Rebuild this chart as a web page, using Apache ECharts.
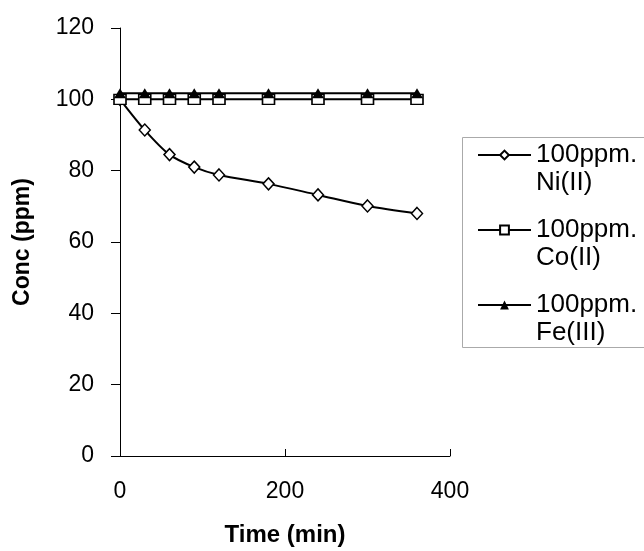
<!DOCTYPE html>
<html>
<head>
<meta charset="utf-8">
<script src="https://cdn.jsdelivr.net/npm/echarts@6/dist/echarts.min.js"></script>
<style>
html,body{margin:0;padding:0;background:#fff;}
#chart{width:644px;height:551px;}
</style>
</head>
<body>
<div id="chart"></div>
<script>
// Data
const timeMin = [0, 30, 60, 90, 120, 180, 240, 300, 360];
const niConc = [100, 91.4, 84.5, 81.0, 78.8, 76.3, 73.2, 70.1, 68.0];
const coConc = [100, 100, 100, 100, 100, 100, 100, 100, 100];
const feConc = [101.7, 101.7, 101.7, 101.7, 101.7, 101.7, 101.7, 101.7, 101.7];
const seriesNames = ['100ppm.\nNi(II)', '100ppm.\nCo(II)', '100ppm.\nFe(III)'];
const xTicks = [0, 200, 400];
const yTicks = [0, 20, 40, 60, 80, 100, 120];

function pairs(xs, ys) { return xs.map((x, i) => [x, ys[i]]); }

const chart = echarts.init(document.getElementById('chart'), null, {renderer: 'canvas'});
const font = 'Liberation Sans, Arial, sans-serif';

chart.setOption({
  animation: false,
  backgroundColor: '#fff',
  textStyle: {fontFamily: font},
  grid: {left: 120, right: 194, top: 28, bottom: 95, containLabel: false, outerBoundsMode: 'none'},
  xAxis: {
    type: 'value', min: xTicks[0], max: xTicks[xTicks.length - 1], interval: 200,
    name: 'Time (min)', nameLocation: 'middle', nameGap: 67,
    nameTextStyle: {fontSize: 24, fontWeight: 'bold', color: '#000', fontFamily: font},
    axisLine: {lineStyle: {color: '#000', width: 1}},
    axisTick: {inside: true, length: 7, lineStyle: {color: '#000'}},
    axisLabel: {fontSize: 23, color: '#000', margin: 24, fontFamily: font},
    splitLine: {show: false}
  },
  yAxis: {
    type: 'value', min: yTicks[0], max: yTicks[yTicks.length - 1], interval: 20,
    name: 'Conc (ppm)', nameLocation: 'middle', nameGap: 86, nameRotate: 90,
    nameTextStyle: {fontSize: 23, fontWeight: 'bold', color: '#000', fontFamily: font},
    axisLine: {show: true, lineStyle: {color: '#000', width: 1}},
    axisTick: {show: true, inside: false, length: 9, lineStyle: {color: '#000'}},
    axisLabel: {fontSize: 23, color: '#000', margin: 26, fontFamily: font},
    splitLine: {show: false}
  },
  legend: {
    orient: 'vertical', left: 477, top: 113, padding: 0,
    itemWidth: 53, itemHeight: 11, itemGap: -9,
    formatter: function (name) { return '\n' + name; },
    textStyle: {fontSize: 26, lineHeight: 28, color: '#000', fontFamily: font},
    data: seriesNames
  },
  graphic: [{
    type: 'rect', shape: {x: 462.5, y: 137.5, width: 200, height: 210},
    style: {fill: 'none', stroke: '#aaa', lineWidth: 1}, silent: true
  }],
  series: [
    {
      name: seriesNames[0], type: 'line', data: pairs(timeMin, niConc),
      smooth: 0.3, symbol: 'diamond', symbolSize: [11, 12],
      lineStyle: {color: '#000', width: 2},
      itemStyle: {color: '#fff', borderColor: '#000', borderWidth: 1.5},
      z: 2
    },
    {
      name: seriesNames[1], type: 'line', data: pairs(timeMin, coConc),
      symbol: 'rect', symbolSize: [12, 10],
      lineStyle: {color: '#000', width: 2},
      itemStyle: {color: '#fff', borderColor: '#000', borderWidth: 1.5},
      z: 3
    },
    {
      name: seriesNames[2], type: 'line', data: pairs(timeMin, feConc),
      symbol: 'triangle', symbolSize: [12, 10],
      lineStyle: {color: '#000', width: 2},
      itemStyle: {color: '#000', borderColor: '#000', borderWidth: 0},
      z: 4
    }
  ]
});
</script>
</body>
</html>
